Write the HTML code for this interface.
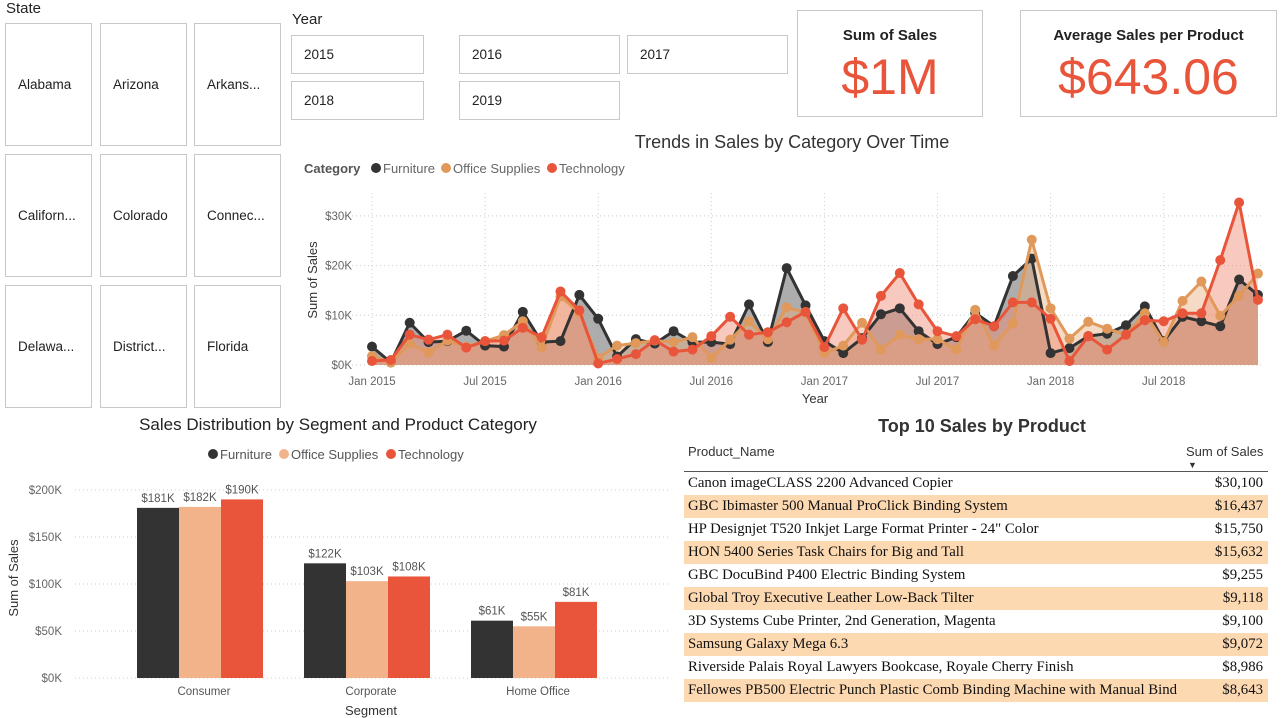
<!DOCTYPE html>
<html><head><meta charset="utf-8">
<style>
body{margin:0;width:1282px;height:718px;background:#fff;font-family:"Liberation Sans",sans-serif;position:relative;overflow:hidden}
.abs{position:absolute}
.tile{position:absolute;border:1px solid #c8c8c8;background:#fff;font-size:13.5px;color:#222;display:flex;align-items:center;padding-left:12px;box-sizing:border-box}
.card{position:absolute;border:1px solid #c8c8c8;text-align:center;box-sizing:border-box}
.card .t{font-weight:bold;font-size:15px;color:#222;margin-top:16px}
.card .v{font-size:50px;color:#e8553a;margin-top:4px}
.row{position:absolute;left:684px;width:584px;height:23px;font-family:"Liberation Serif",serif;font-size:14.8px;color:#111;line-height:23px}
.row span{position:absolute}
</style></head><body>
<div class="abs" style="left:6px;top:0px;font-size:15px;color:#222">State</div>
<div id="states"></div>
<div class="abs" style="left:292px;top:11px;font-size:15px;color:#222">Year</div>
<div id="years"></div>
<div class="card" style="left:797px;top:10px;width:186px;height:107px"><div class="t">Sum of Sales</div><div class="v">$1M</div></div>
<div class="card" style="left:1020px;top:10px;width:257px;height:107px"><div class="t">Average Sales per Product</div><div class="v">$643.06</div></div>

<svg class="abs" style="left:0;top:0" width="1282" height="718" id="svg"></svg>

<div class="abs" style="left:684px;width:596px;top:416px;text-align:center;font-size:18px;font-weight:bold;color:#333">Top 10 Sales by Product</div>
<div class="abs" style="left:688px;top:444px;font-size:13px;color:#333">Product_Name</div>
<div class="abs" style="left:1186px;top:444px;font-size:13px;color:#333">Sum of Sales</div>
<div class="abs" style="left:1188px;top:460px;font-size:9px;color:#333">▼</div>
<div class="abs" style="left:684px;top:471px;width:584px;height:1px;background:#555"></div>
<div id="rows"></div>

<script>
const stateNames=["Alabama","Arizona","Arkans...","Californ...","Colorado","Connec...","Delawa...","District...","Florida"];
const yearNames=["2015","2016","2017","2018","2019"];
const months=48;
const furniture=[3.7,0.5,8.5,4.6,4.8,6.9,3.9,3.7,10.7,4.6,4.8,14.1,9.3,1.7,5.2,4.3,6.8,4.6,4.6,4.2,12.2,4.6,19.5,12.0,4.8,2.4,5.4,10.2,11.4,6.8,4.2,5.6,10.5,7.8,17.9,21.4,2.4,3.4,5.8,6.3,8.0,11.8,4.8,9.7,8.8,7.8,17.2,14.1];
const office=[1.8,0.5,4.3,2.5,4.9,3.7,4.8,6.0,8.8,3.6,13.8,10.5,1.4,3.9,4.4,4.9,4.6,5.6,1.4,5.1,8.8,5.2,11.6,10.5,2.4,3.9,8.5,3.1,6.1,5.2,5.2,3.1,11.1,3.9,8.4,25.2,11.4,5.3,8.7,7.3,6.1,10.4,4.6,12.9,16.8,9.9,13.9,18.4];
const tech=[0.8,1.0,6.1,5.1,6.1,3.5,4.8,4.9,7.5,5.6,14.8,11.0,0.3,1.2,2.2,5.0,2.7,3.1,5.8,9.7,6.1,6.6,8.6,10.7,3.6,11.4,5.1,13.9,18.5,12.2,6.8,5.8,9.2,7.8,12.6,12.6,9.3,0.8,5.8,3.1,6.1,9.0,8.8,10.4,10.4,21.1,32.7,13.1];
const lineTicks=[0,10,20,30];
const xTickLabels=["Jan 2015","Jul 2015","Jan 2016","Jul 2016","Jan 2017","Jul 2017","Jan 2018","Jul 2018"];
const segments=["Consumer","Corporate","Home Office"];
const barFurn=[181,122,61];
const barOff=[182,103,55];
const barTech=[190,108,81];
const barTicks=[0,50,100,150,200];
const products=["Canon imageCLASS 2200 Advanced Copier","GBC Ibimaster 500 Manual ProClick Binding System","HP Designjet T520 Inkjet Large Format Printer - 24\" Color","HON 5400 Series Task Chairs for Big and Tall","GBC DocuBind P400 Electric Binding System","Global Troy Executive Leather Low-Back Tilter","3D Systems Cube Printer, 2nd Generation, Magenta","Samsung Galaxy Mega 6.3","Riverside Palais Royal Lawyers Bookcase, Royale Cherry Finish","Fellowes PB500 Electric Punch Plastic Comb Binding Machine with Manual Bind"];
const productSales=["$30,100","$16,437","$15,750","$15,632","$9,255","$9,118","$9,100","$9,072","$8,986","$8,643"];

const st=document.getElementById('states');
const sx=[5,100,194],sy=[23,154,285];
stateNames.forEach((n,i)=>{const d=document.createElement('div');d.className='tile';


d.style.left=sx[i%3]+'px';d.style.top=sy[Math.floor(i/3)]+'px';d.style.width='87px';d.style.height='123px';d.textContent=n;st.appendChild(d);});
const yr=document.getElementById('years');
const yx=[291,459,627],yy=[35,81];
yearNames.forEach((n,i)=>{const d=document.createElement('div');d.className='tile';


d.style.left=yx[i%3]+'px';d.style.top=yy[Math.floor(i/3)]+'px';d.style.width=(i%3==0?133:161)+'px';d.style.height='39px';d.textContent=n;yr.appendChild(d);});

const svg=document.getElementById('svg');const NS='http://www.w3.org/2000/svg';
function el(t,a,txt,name,parent){const e=document.createElementNS(NS,t);for(const k in a)e.setAttribute(k,a[k]);if(txt!=null)e.textContent=txt;


(parent||svg).appendChild(e);return e;}

const lx=i=>372+i*18.85, ly=v=>365-v*4.97;
el('text',{x:792,y:148,'text-anchor':'middle','font-size':18,fill:'#333'},'Trends in Sales by Category Over Time','line-chart-title');
el('text',{x:304,y:173,'font-size':13,'font-weight':'bold',fill:'#555'},'Category','legend-title');
[['Furniture','#333333',376],['Office Supplies','#e0995a',446],['Technology','#e8553a',552]].forEach(([n,c,x])=>{
el('circle',{cx:x,cy:168,r:5,fill:c},null,'legend-marker-'+n.toLowerCase().replace(' ','-'));
el('text',{x:x+7,y:173,'font-size':13,fill:'#666'},n,'legend-label-'+n.toLowerCase().replace(' ','-'));});
lineTicks.forEach(t=>{el('line',{x1:340,x2:1262,y1:ly(t),y2:ly(t),stroke:'#ccc','stroke-dasharray':'1 3'},null,'y-gridline');
el('text',{x:352,y:ly(t)+4,'text-anchor':'end','font-size':11.5,fill:'#666'},'$'+t+'K','y-tick-label');});
xTickLabels.forEach((t,i)=>{const x=lx(i*6);el('line',{x1:x,x2:x,y1:193,y2:365,stroke:'#ccc','stroke-dasharray':'1 3'},null,'x-gridline');
el('text',{x:x,y:385,'text-anchor':'middle','font-size':11.5,fill:'#666'},t,'x-tick-label');});
el('text',{x:815,y:403,'text-anchor':'middle','font-size':13,fill:'#333'},'Year','x-axis-title');
el('text',{x:317,y:280,'text-anchor':'middle','font-size':13,fill:'#333',transform:'rotate(-90 317 280)'},'Sum of Sales','y-axis-title');
[[furniture,'#333333','#8a8a8a',0.7,'furniture'],[office,'#e0995a','#e8b07e',0.45,'office-supplies'],[tech,'#e8553a','#ef8a72',0.45,'technology']].forEach(([d,c,f,o,n])=>{
let p=d.map((v,i)=>lx(i)+','+ly(v)).join(' ');
el('polygon',{points:lx(0)+','+ly(0)+' '+p+' '+lx(months-1)+','+ly(0),fill:f,'fill-opacity':o},null,'area-'+n);});
[[furniture,'#333333','furniture'],[office,'#e0995a','office-supplies'],[tech,'#e8553a','technology']].forEach(([d,c,n])=>{
el('polyline',{points:d.map((v,i)=>lx(i)+','+ly(v)).join(' '),fill:'none',stroke:c,'stroke-width':3,'stroke-linejoin':'round'},null,'line-'+n);
d.forEach((v,i)=>el('circle',{cx:lx(i),cy:ly(v),r:5,fill:c},null,'point-'+n));});

const by=v=>678-v*0.94, gc=i=>204+i*167;
el('text',{x:338,y:430,'text-anchor':'middle','font-size':17,fill:'#222'},'Sales Distribution by Segment and Product Category','bar-chart-title');
[['Furniture','#333333',213],['Office Supplies','#f2b28a',284],['Technology','#e8553a',391]].forEach(([n,c,x])=>{
el('circle',{cx:x,cy:454,r:5,fill:c},null,'bar-legend-marker');
el('text',{x:x+7,y:459,'font-size':13,fill:'#555'},n,'bar-legend-label');});
barTicks.forEach(t=>{el('line',{x1:75,x2:670,y1:by(t),y2:by(t),stroke:'#ccc','stroke-dasharray':'1 3'},null,'bar-gridline');
el('text',{x:62,y:by(t)+4,'text-anchor':'end','font-size':11.5,fill:'#666'},'$'+t+'K','bar-y-tick');});
el('text',{x:18,y:578,'text-anchor':'middle','font-size':13,fill:'#333',transform:'rotate(-90 18 578)'},'Sum of Sales','bar-y-axis-title');
el('text',{x:371,y:715,'text-anchor':'middle','font-size':13,fill:'#333'},'Segment','bar-x-axis-title');
segments.forEach((s,i)=>{
el('text',{x:gc(i),y:695,'text-anchor':'middle','font-size':11.5,fill:'#555'},s,'segment-label');
[[barFurn,'#333333'],[barOff,'#f2b28a'],[barTech,'#e8553a']].forEach(([d,c],j)=>{
const x=gc(i)-67+j*42;
el('rect',{x:x,y:by(d[i]),width:42,height:678-by(d[i]),fill:c},null,'bar-'+s.toLowerCase().replace(' ','-')+'-'+j);
el('text',{x:x+21,y:by(d[i])-6,'text-anchor':'middle','font-size':11.5,fill:'#555'},'$'+d[i]+'K','bar-value-label');});});

const rows=document.getElementById('rows');
products.forEach((p,i)=>{const r=document.createElement('div');r.className='row';


r.style.top=(472+i*23)+'px';if(i%2==1)r.style.background='#fdd9b2';
r.innerHTML='<span style="left:4px">'+p+'</span><span style="right:5px">'+productSales[i]+'</span>';rows.appendChild(r);});
</script>
</body></html>
